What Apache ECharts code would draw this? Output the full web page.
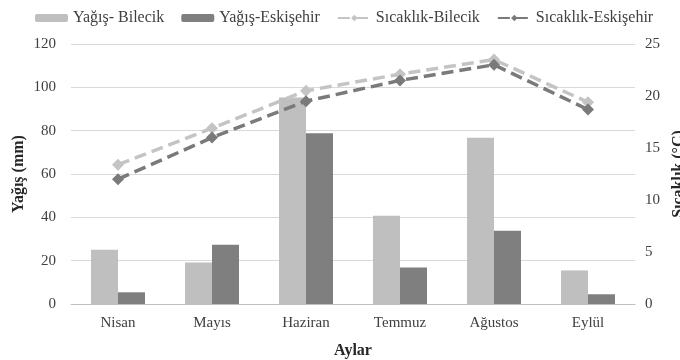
<!DOCTYPE html>
<html>
<head>
<meta charset="utf-8">
<script src="https://cdn.jsdelivr.net/npm/echarts@6/dist/echarts.min.js"></script>
<style>
  html, body { margin: 0; padding: 0; background: #fff; }
  #chart { width: 680px; height: 360px; }
</style>
</head>
<body>
<div id="chart"></div>
<script>
// aylar ve ölçülen değerler
const months = ['Nisan', 'Mayıs', 'Haziran', 'Temmuz', 'Ağustos', 'Eylül'];
const rainBilecik = [25, 19.2, 95.3, 40.7, 76.7, 15.5];
const rainEskisehir = [5.4, 27.4, 78.8, 16.9, 33.8, 4.5];
const tempBilecik = [13.4, 16.9, 20.5, 22.1, 23.5, 19.4];
const tempEskisehir = [12.0, 16.0, 19.5, 21.5, 23.0, 18.7];

const font = 'Liberation Serif';
const chart = echarts.init(document.getElementById('chart'));

const option = {
  backgroundColor: '#fff',
  textStyle: { fontFamily: font },
  legend: {
    top: 5,
    left: 30,
    itemWidth: 33,
    itemHeight: 8,
    itemGap: 17,
    textStyle: { fontFamily: font, fontSize: 16, color: '#404040' },
    data: ['Yağış- Bilecik', 'Yağış-Eskişehir', 'Sıcaklık-Bilecik', 'Sıcaklık-Eskişehir']
  },
  grid: { left: 71, right: 45, top: 44, bottom: 56, outerBoundsMode: 'none', containLabel: false },
  xAxis: {
    type: 'category',
    data: months,
    name: 'Aylar',
    nameLocation: 'middle',
    nameGap: 39,
    nameTextStyle: { fontFamily: font, fontSize: 16, fontWeight: 'bold', color: '#262626' },
    axisLine: { lineStyle: { color: '#bfbfbf' } },
    axisTick: { length: 5, lineStyle: { color: '#bfbfbf' } },
    axisLabel: { fontFamily: font, fontSize: 15, color: '#404040', margin: 12 }
  },
  yAxis: [
    {
      type: 'value',
      min: 0, max: 120, interval: 20,
      name: 'Yağış (mm)',
      nameLocation: 'middle',
      nameGap: 44,
      nameMoveOverlap: false,
      nameTextStyle: { fontFamily: font, fontSize: 16, fontWeight: 'bold', color: '#262626' },
      axisLine: { show: false },
      axisTick: { show: false },
      axisLabel: { fontFamily: font, fontSize: 15, color: '#404040', margin: 15 },
      splitLine: { lineStyle: { color: '#d9d9d9' } }
    },
    {
      type: 'value',
      min: 0, max: 25, interval: 5,
      name: 'Sıcaklık (°C)',
      nameLocation: 'middle',
      nameGap: 34,
      nameRotate: 90,
      nameTextStyle: { fontFamily: font, fontSize: 16, fontWeight: 'bold', color: '#262626' },
      axisLine: { show: false },
      axisTick: { show: false },
      axisLabel: { fontFamily: font, fontSize: 15, color: '#404040', margin: 10 },
      splitLine: { show: false }
    }
  ],
  series: [
    {
      name: 'Yağış- Bilecik',
      type: 'bar',
      data: rainBilecik,
      barWidth: 27,
      barGap: '0%',
      itemStyle: { color: '#bfbfbf' }
    },
    {
      name: 'Yağış-Eskişehir',
      type: 'bar',
      data: rainEskisehir,
      barWidth: 27,
      barGap: '0%',
      itemStyle: { color: '#7f7f7f' }
    },
    {
      name: 'Sıcaklık-Bilecik',
      type: 'line',
      yAxisIndex: 1,
      data: tempBilecik,
      symbol: 'diamond',
      symbolSize: 12,
      itemStyle: { color: '#c4c4c4' },
      lineStyle: { color: '#c4c4c4', width: 3.5, type: [12, 6] }
    },
    {
      name: 'Sıcaklık-Eskişehir',
      type: 'line',
      yAxisIndex: 1,
      data: tempEskisehir,
      symbol: 'diamond',
      symbolSize: 12,
      itemStyle: { color: '#7a7a7a' },
      lineStyle: { color: '#7a7a7a', width: 3.5, type: [12, 6] }
    }
  ]
};

chart.setOption(option);
</script>
</body>
</html>
